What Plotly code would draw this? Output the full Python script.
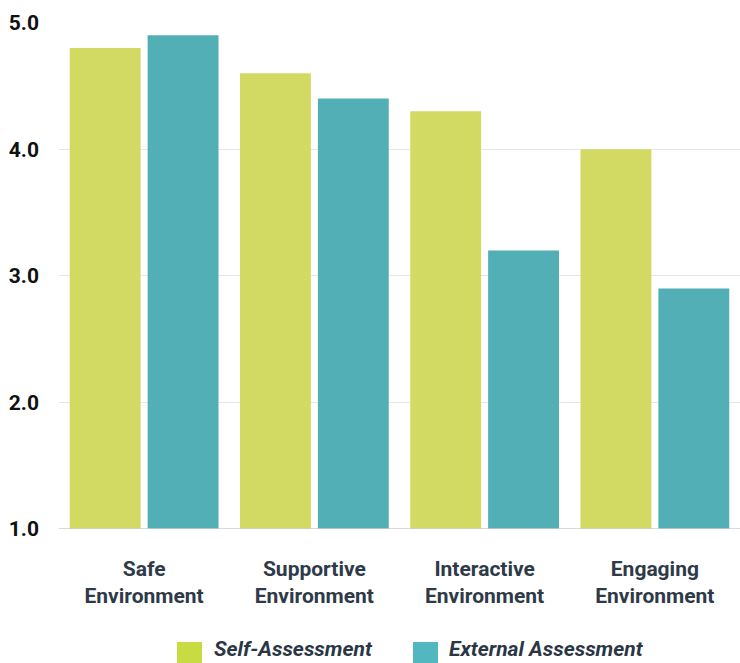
import plotly.graph_objects as go

categories = ["Safe<br>Environment", "Supportive<br>Environment",
              "Interactive<br>Environment", "Engaging<br>Environment"]
self_assessment = [4.8, 4.6, 4.3, 4.0]
external_assessment = [4.9, 4.4, 3.2, 2.9]
series_names = ["Self-Assessment", "External Assessment"]
y_ticks = [1.0, 2.0, 3.0, 4.0, 5.0]
y_tick_labels = ["1.0", "2.0", "3.0", "4.0", "5.0"]

yellow = "#D2DA63"
teal = "#52AFB5"
legend_colors = ["#C9DB42", "#53B7BF"]
text_dark = "#2B3644"

W, H = 740, 663
ML, MR, MT, MB = 59, 0, 22, 134
plot_w = W - ML - MR
plot_h = H - MT - MB

fig = go.Figure()
fig.add_trace(go.Bar(x=categories, y=self_assessment, name=series_names[0],
                     marker=dict(color=yellow, line=dict(width=0))))
fig.add_trace(go.Bar(x=categories, y=external_assessment, name=series_names[1],
                     marker=dict(color=teal, line=dict(width=0))))


def px_x(p):
    return (p - ML) / plot_w


def px_y(p):
    return (H - MB - p) / plot_h


# legend drawn below the axis: square swatch followed by italic label
shapes = [dict(type="line", xref="paper", yref="y", x0=0, x1=1, y0=1, y1=1,
               line=dict(color="#CCCCCC", width=1.5), layer="above")]
annotations = []
swatch_left = [177, 413]
label_left = [212, 447]
for name, col, sx, tx in zip(series_names, legend_colors, swatch_left, label_left):
    shapes.append(dict(type="rect", xref="paper", yref="paper",
                       x0=px_x(sx), x1=px_x(sx + 25), y0=px_y(642), y1=px_y(667),
                       fillcolor=col, line=dict(width=0)))
    annotations.append(dict(text=name, xref="paper", yref="paper",
                            x=px_x(tx), y=px_y(649), xanchor="left", yanchor="middle",
                            showarrow=False,
                            font=dict(family="Roboto", size=21, color=text_dark,
                                      style="italic", weight="bold")))

fig.update_layout(
    width=W, height=H,
    margin=dict(l=ML, r=MR, t=MT, b=MB),
    plot_bgcolor="white", paper_bgcolor="white",
    barmode="group", bargap=0.085, bargroupgap=0.09,
    showlegend=False,
    font=dict(family="Roboto", color=text_dark),
    xaxis=dict(tickfont=dict(size=21, color="#2E3A48", weight="bold"),
               showgrid=False, showline=False, ticks="", ticklabelstandoff=25),
    yaxis=dict(range=[1, 5.005], tickvals=y_ticks, ticktext=y_tick_labels,
               tickfont=dict(size=21, color="#111111", weight="bold"),
               showgrid=True, gridcolor="#E6E6E6", gridwidth=1,
               zeroline=False, showline=False, ticks="", ticklabelstandoff=19),
    shapes=shapes,
    annotations=annotations,
)

fig.write_html("out.html")
